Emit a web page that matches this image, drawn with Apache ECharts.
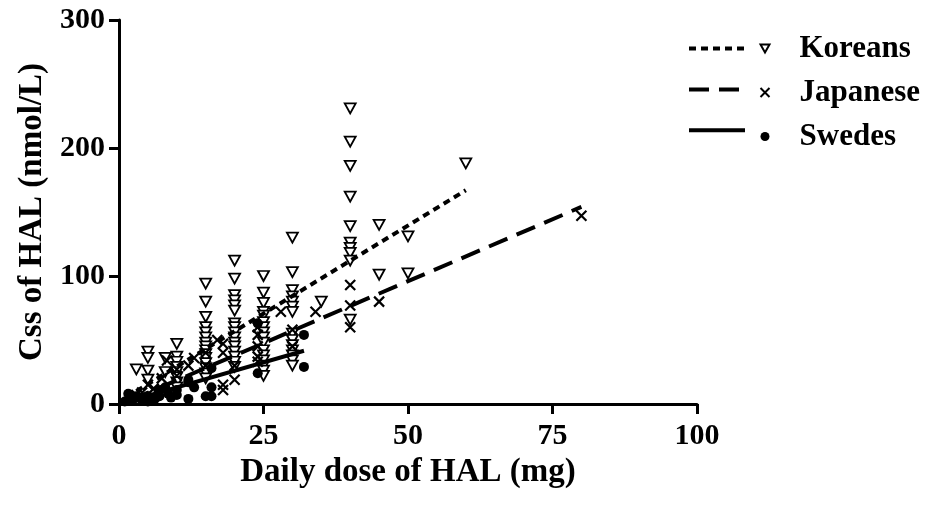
<!DOCTYPE html>
<html>
<head>
<meta charset="utf-8">
<script src="https://cdn.jsdelivr.net/npm/echarts@6/dist/echarts.min.js"></script>
<style>
html, body { margin: 0; padding: 0; background: #fff; }
#chart { width: 927px; height: 508px; }
</style>
</head>
<body>
<div id="chart"></div>
<script>
// Koreans (open triangles)
const koreanDose = [3, 5, 5, 5, 5, 8, 8,
    10, 10, 10, 10, 10, 10, 10, 10,
    15, 15, 15, 15, 15, 15, 15, 15, 15, 15, 15, 15, 15, 15, 15,
    20, 20, 20, 20, 20, 20, 20, 20, 20, 20, 20, 20, 20, 20, 20, 20,
    25, 25, 25, 25, 25, 25, 25, 25, 25, 25, 25, 25, 25, 25, 25, 25,
    30, 30, 30, 30, 30, 30, 30, 30, 30, 30, 30, 30, 30, 30,
    35, 40, 40, 40, 40, 40, 40, 40, 40, 40, 40, 45, 45, 50, 50, 60];
const koreanCss = [27, 41, 36, 26, 19, 36, 25,
    47, 37, 33, 29, 25, 21, 17, 13,
    94, 80, 68, 60, 56, 52, 48, 45, 42, 39, 36, 32, 28, 24, 20,
    112, 98, 85, 81, 77, 73, 63, 60, 56, 52, 48, 45, 41, 37, 33, 29,
    100, 87, 79, 72, 69, 64, 60, 56, 52, 48, 42, 38, 34, 30, 26, 22,
    130, 103, 89, 84, 80, 76, 72, 55, 50, 46, 42, 38, 34, 30,
    80, 231, 205, 186, 162, 139, 126, 122, 118, 112, 66, 140, 101, 131, 102, 188];

// Japanese (crosses)
const japaneseDose = [2, 3, 4, 5, 6, 7.4, 8.3, 10, 10, 12, 13, 15, 15, 17, 18, 18, 18, 18,
    20, 20, 24, 24, 24, 24, 24, 28, 30, 30, 34, 40, 40, 40, 45, 80];
const japaneseCss = [4, 7, 9, 15, 12, 20, 34, 27, 22, 30, 36, 30, 40, 50, 47, 40, 15, 11,
    19, 30, 60, 54, 45, 37, 33, 72, 58, 45, 72, 93, 77, 60, 80, 147];

// Swedes (filled dots)
const swedeDose = [1, 1.6, 2, 2.5, 3, 3.3, 4, 5, 5, 6.2, 6.8, 7, 8, 8.5, 9, 10, 10,
    12, 12, 12, 13, 15, 16, 16, 16, 24, 24, 32, 32];
const swedeCss = [2, 8, 3, 4, 6, 5, 3, 6, 2, 4, 11, 6, 13, 8, 5, 7, 11,
    19, 17, 4, 13, 6, 28, 13, 6, 63, 24, 54, 29];

// regression lines: [start, end] as [dose, Css]
const koreanFit = [[3, 10], [60, 167]];
const japaneseFit = [[2, 3], [80, 154]];
const swedeFit = [[1, 1.3], [32, 41.6]];

const xTicks = [0, 25, 50, 75, 100];
const yTicks = [0, 100, 200, 300];

function pairs(xs, ys) {
    return xs.map((x, i) => [x, ys[i]]);
}

const font = 'Liberation Serif';
const crossPath = 'path://M0,0L10,10M10,0L0,10';
const downTriangle = 'path://M0,0L10,0L5,9Z';

const chart = echarts.init(document.getElementById('chart'), null, {renderer: 'canvas'});

let option = {
    animation: false,
    backgroundColor: '#fff',
    grid: {left: 119, right: 230, top: 20, bottom: 104},
    legend: [
        {
            data: ['Koreans fit', 'Japanese fit', 'Swedes fit'],
            orient: 'vertical',
            left: 687,
            top: 33,
            padding: 0,
            itemWidth: 56,
            itemHeight: 31,
            itemGap: 13,
            formatter: function () { return ''; },
            itemStyle: {opacity: 0},
            lineStyle: {width: 4},
            textStyle: {fontFamily: font, fontWeight: 'bold', fontSize: 31},
            selectedMode: false
        },
        {
            data: [{name: 'Koreans', icon: downTriangle}, 'Japanese', 'Swedes'],
            orient: 'vertical',
            left: 758,
            top: 33,
            padding: 0,
            itemWidth: 9,
            itemHeight: 9,
            itemGap: 13,
            selectedMode: false,
            textStyle: {
                fontFamily: font, fontWeight: 'bold', fontSize: 31, color: '#000',
                padding: [0, 0, 0, 25]
            }
        }
    ],
    xAxis: {
        type: 'value',
        min: 0,
        max: 100,
        interval: 25,
        name: 'Daily dose of HAL (mg)',
        nameLocation: 'middle',
        nameGap: 50,
        nameTextStyle: {fontFamily: font, fontWeight: 'bold', fontSize: 33, color: '#000'},
        axisLine: {lineStyle: {color: '#000', width: 3}},
        axisTick: {length: 10, lineStyle: {color: '#000', width: 3}},
        axisLabel: {
            margin: 17, fontFamily: font, fontWeight: 'bold', fontSize: 30, color: '#000',
            customValues: xTicks
        },
        splitLine: {show: false}
    },
    yAxis: {
        type: 'value',
        min: 0,
        max: 300,
        interval: 100,
        name: 'Css of HAL (nmol/L)',
        nameLocation: 'middle',
        nameGap: 70,
        nameTextStyle: {fontFamily: font, fontWeight: 'bold', fontSize: 33, color: '#000'},
        axisLine: {show: true, lineStyle: {color: '#000', width: 3}},
        axisTick: {show: true, length: 10, lineStyle: {color: '#000', width: 3}},
        axisLabel: {
            margin: 14, fontFamily: font, fontWeight: 'bold', fontSize: 30, color: '#000',
            customValues: yTicks
        },
        splitLine: {show: false}
    },
    series: [
        {
            name: 'Koreans',
            type: 'scatter',
            data: pairs(koreanDose, koreanCss),
            symbol: 'triangle',
            symbolRotate: 180,
            symbolSize: [11, 10],
            itemStyle: {color: '#fff', borderColor: '#000', borderWidth: 1.8, opacity: 1},
            z: 3
        },
        {
            name: 'Japanese',
            type: 'scatter',
            data: pairs(japaneseDose, japaneseCss),
            symbol: crossPath,
            symbolSize: 10,
            itemStyle: {color: 'none', borderColor: '#000', borderWidth: 2.2, opacity: 1},
            z: 3
        },
        {
            name: 'Swedes',
            type: 'scatter',
            data: pairs(swedeDose, swedeCss),
            symbol: 'circle',
            symbolSize: 10,
            itemStyle: {color: '#000', opacity: 1},
            z: 3
        },
        {
            name: 'Koreans fit',
            type: 'line',
            data: koreanFit,
            symbol: 'none',
            lineStyle: {color: '#000', width: 4, type: [7, 5]},
            z: 4
        },
        {
            name: 'Japanese fit',
            type: 'line',
            data: japaneseFit,
            symbol: 'none',
            lineStyle: {color: '#000', width: 4, type: [20, 10]},
            z: 4
        },
        {
            name: 'Swedes fit',
            type: 'line',
            data: swedeFit,
            symbol: 'none',
            lineStyle: {color: '#000', width: 4},
            z: 4
        }
    ]
};

chart.setOption(option);
</script>
</body>
</html>
